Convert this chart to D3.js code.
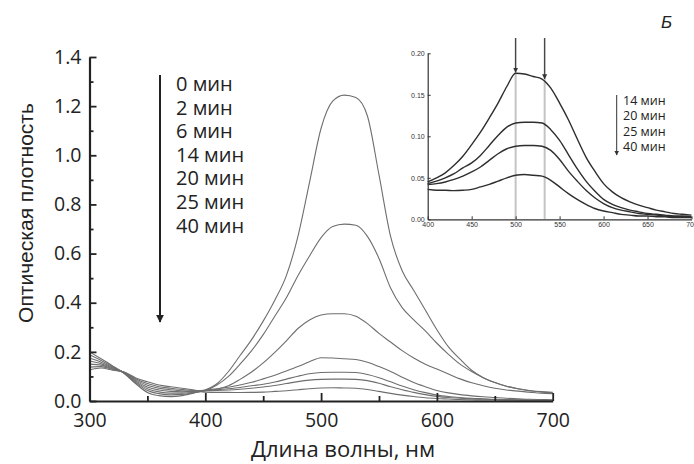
<!DOCTYPE html>
<html><head><meta charset="utf-8">
<script src="https://cdn.jsdelivr.net/npm/d3@7"></script>
<style>body{margin:0;background:#fff}svg{display:block}</style>
</head><body><svg id="c" width="694" height="464"></svg>
<script>
const wavelengths = [300,310,320,330,340,350,360,370,380,390,400,410,420,430,440,450,460,470,480,490,500,510,520,530,540,550,560,570,580,590,600,610,620,630,640,650,660,670,680,690,700];
const seriesNames = ["0 мин","2 мин","6 мин","14 мин","20 мин","25 мин","40 мин"];
const s0  = [0.200,0.172,0.143,0.112,0.070,0.035,0.022,0.018,0.022,0.032,0.045,0.070,0.120,0.185,0.250,0.325,0.410,0.510,0.670,0.890,1.110,1.220,1.245,1.235,1.160,0.920,0.670,0.530,0.450,0.370,0.290,0.220,0.170,0.125,0.095,0.075,0.060,0.050,0.043,0.038,0.035];
const s2  = [0.188,0.165,0.140,0.113,0.074,0.043,0.030,0.025,0.027,0.034,0.043,0.065,0.100,0.150,0.205,0.270,0.345,0.420,0.510,0.590,0.665,0.710,0.720,0.715,0.670,0.580,0.460,0.380,0.330,0.285,0.235,0.190,0.150,0.120,0.095,0.075,0.060,0.050,0.042,0.037,0.033];
const s6  = [0.175,0.158,0.137,0.114,0.078,0.050,0.037,0.032,0.032,0.036,0.042,0.048,0.062,0.088,0.118,0.155,0.198,0.245,0.295,0.330,0.350,0.355,0.355,0.345,0.315,0.275,0.240,0.205,0.175,0.150,0.130,0.110,0.090,0.074,0.062,0.052,0.045,0.040,0.036,0.032,0.030];
const s14 = [0.163,0.152,0.134,0.115,0.082,0.057,0.045,0.039,0.037,0.039,0.045,0.050,0.056,0.065,0.076,0.090,0.105,0.122,0.140,0.160,0.176,0.175,0.172,0.169,0.158,0.140,0.120,0.097,0.075,0.058,0.043,0.033,0.026,0.021,0.017,0.014,0.011,0.009,0.007,0.006,0.005];
const s20 = [0.150,0.146,0.131,0.116,0.086,0.064,0.052,0.046,0.042,0.041,0.043,0.046,0.050,0.055,0.062,0.068,0.077,0.089,0.101,0.111,0.116,0.117,0.117,0.116,0.108,0.095,0.078,0.061,0.046,0.034,0.024,0.018,0.014,0.011,0.009,0.007,0.006,0.005,0.004,0.004,0.003];
const s25 = [0.138,0.140,0.128,0.117,0.090,0.071,0.058,0.052,0.047,0.043,0.042,0.043,0.045,0.048,0.052,0.057,0.063,0.071,0.079,0.085,0.088,0.089,0.089,0.088,0.083,0.072,0.058,0.046,0.035,0.026,0.019,0.014,0.011,0.009,0.007,0.006,0.005,0.004,0.003,0.003,0.002];
const s40 = [0.126,0.134,0.125,0.118,0.094,0.078,0.065,0.058,0.052,0.045,0.036,0.035,0.035,0.0345,0.035,0.036,0.039,0.042,0.046,0.050,0.053,0.054,0.053,0.052,0.047,0.039,0.031,0.024,0.018,0.013,0.010,0.008,0.006,0.005,0.004,0.004,0.003,0.003,0.002,0.002,0.002];
const mainSeries = [s0,s2,s6,s14,s20,s25,s40];
const insetNames = ["14 мин","20 мин","25 мин","40 мин"];
const insetSeries = [s14,s20,s25,s40];
const yTicks = [0.0,0.2,0.4,0.6,0.8,1.0,1.2,1.4];
const xTicks = [300,400,500,600,700];
const insetXTicks = [400,450,500,550,600,650,700];
const insetYTicks = [0.00,0.05,0.10,0.15,0.20];
const insetMarks = [500,533];

const svg = d3.select("#c");
const x = d3.scaleLinear().domain([300,700]).range([89.5,552.7]);
const y = d3.scaleLinear().domain([0,1.4]).range([401,57]);

// curves
const line = d3.line().x((d,i)=>x(wavelengths[i])).y(d=>y(d)).curve(d3.curveMonotoneX);
svg.append("g").selectAll("path").data(mainSeries).join("path")
  .attr("d",line).attr("fill","none").attr("stroke","#6e6e6e").attr("stroke-width",1.1);

// axes
const font = "'Open Sans', sans-serif";
const gx = svg.append("g").attr("transform","translate(0,401)")
  .call(d3.axisBottom(x).tickValues(xTicks).tickFormat(d3.format("d")).tickSizeInner(-8).tickSizeOuter(0).tickPadding(12));
const gxm = svg.append("g").attr("transform","translate(0,401)")
  .call(d3.axisBottom(x).tickValues([350,450,550,650]).tickFormat("").tickSizeInner(-5).tickSizeOuter(0));
gxm.select(".domain").remove();
const gy = svg.append("g").attr("transform","translate(89.5,0)")
  .call(d3.axisLeft(y).tickValues(yTicks).tickFormat(d3.format(".1f")).tickSizeInner(-7).tickSizeOuter(0).tickPadding(8));
const gym = svg.append("g").attr("transform","translate(89.5,0)")
  .call(d3.axisLeft(y).tickValues([0.1,0.3,0.5,0.7,0.9,1.1,1.3]).tickFormat("").tickSizeInner(-4).tickSizeOuter(0));
gym.select(".domain").remove();
[gx,gy].forEach(g=>{g.select(".domain").attr("stroke","#222").attr("stroke-width",2.2);
  g.selectAll("text").attr("font-family",font).attr("font-size",19.5).attr("fill","#222");});
[gx,gy,gxm,gym].forEach(g=>g.selectAll("line").attr("stroke","#222").attr("stroke-width",1.8));

// axis titles
svg.append("text").attr("x",343).attr("y",457).attr("text-anchor","middle")
  .attr("font-family",font).attr("font-size",22).attr("fill","#222").text("Длина волны, нм");
svg.append("text").attr("transform","translate(33,213) rotate(-90)").attr("text-anchor","middle")
  .attr("font-family","'Liberation Sans', Arial, sans-serif").attr("font-size",21).attr("fill","#222").text("Оптическая плотность");

// main legend
const defs = svg.append("defs");
defs.append("marker").attr("id","ah").attr("viewBox","0 0 10 10").attr("refX",9).attr("refY",5)
  .attr("markerWidth",4).attr("markerHeight",6).attr("orient","auto")
  .append("path").attr("d","M0,0 L10,5 L0,10 z").attr("fill","#222");
svg.append("line").attr("x1",160).attr("x2",160).attr("y1",75).attr("y2",322)
  .attr("stroke","#222").attr("stroke-width",2).attr("marker-end","url(#ah)");
svg.append("g").selectAll("text").data(seriesNames).join("text")
  .attr("x",176).attr("y",(d,i)=>91+i*23.6).attr("font-family",font).attr("font-size",20).attr("fill","#222").text(d=>d);

// inset
const ix = d3.scaleLinear().domain([400,700]).range([427.7,691.5]);
const iy = d3.scaleLinear().domain([0,0.2]).range([219.3,53.3]);
insetMarks.forEach(m=>{
  svg.append("line").attr("x1",ix(m)).attr("x2",ix(m)).attr("y1",38).attr("y2",219)
    .attr("stroke","#c4c4c4").attr("stroke-width",2);
});
const iline = d3.line().x((d,i)=>ix(wavelengths[i+10])).y(d=>iy(d)).curve(d3.curveMonotoneX);
svg.append("g").selectAll("path").data(insetSeries.map(s=>s.slice(10))).join("path")
  .attr("d",iline).attr("fill","none").attr("stroke","#2e2e2e").attr("stroke-width",1.4);
defs.append("marker").attr("id","ah2").attr("viewBox","0 0 10 10").attr("refX",9).attr("refY",5)
  .attr("markerWidth",5).attr("markerHeight",7).attr("orient","auto")
  .append("path").attr("d","M0,0 L10,5 L0,10 z").attr("fill","#333");
insetMarks.forEach((m,k)=>{
  const v = k===0 ? s14[20] : 0.168;
  svg.append("line").attr("x1",ix(m)).attr("x2",ix(m)).attr("y1",38).attr("y2",iy(v)-1)
    .attr("stroke","#333").attr("stroke-width",1).attr("marker-end","url(#ah2)");
});
const igx = svg.append("g").attr("transform","translate(0,219.3)")
  .call(d3.axisBottom(ix).tickValues(insetXTicks).tickFormat(d3.format("d")).tickSizeInner(-3).tickSizeOuter(0).tickPadding(3));
const igy = svg.append("g").attr("transform","translate(427.7,0)")
  .call(d3.axisLeft(iy).tickValues(insetYTicks).tickFormat(d3.format(".2f")).tickSizeInner(-3).tickSizeOuter(0).tickPadding(3));
[igx,igy].forEach(g=>{g.select(".domain").attr("stroke","#333").attr("stroke-width",1.2);
  g.selectAll("line").attr("stroke","#333");
  g.selectAll("text").attr("font-family","'Liberation Sans', Arial, sans-serif").attr("font-size",7).attr("fill","#333");});
svg.append("line").attr("x1",616.7).attr("x2",616.7).attr("y1",95).attr("y2",155)
  .attr("stroke","#333").attr("stroke-width",1).attr("marker-end","url(#ah2)");
svg.append("g").selectAll("text").data(insetNames).join("text")
  .attr("x",623).attr("y",(d,i)=>105+i*15.3).attr("font-family",font).attr("font-size",12.5).attr("fill","#222").text(d=>d);

svg.append("text").attr("x",661).attr("y",28).attr("font-family","'Liberation Sans', Arial, sans-serif")
  .attr("font-style","italic").attr("font-size",17).attr("fill","#222").text("Б");
</script></body></html>
